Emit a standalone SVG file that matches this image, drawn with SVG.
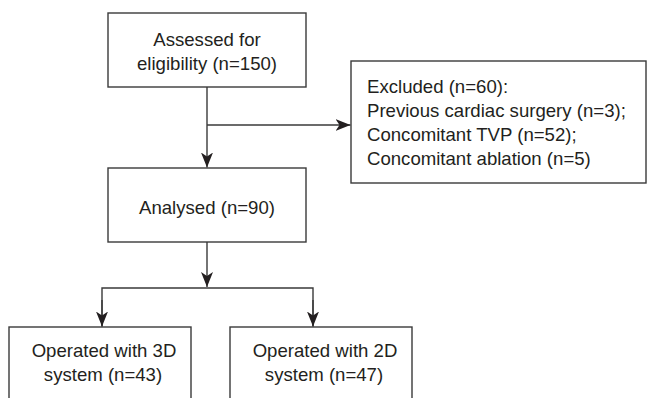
<svg xmlns="http://www.w3.org/2000/svg" width="647" height="398" viewBox="0 0 647 398">
<style>
.box{fill:#fff;stroke:#3a3a3a;stroke-width:1.4}
.t{font-family:"Liberation Sans",Arial,sans-serif;font-size:18.6px;fill:#231f20}
.c{text-anchor:middle}
.ln{fill:none;stroke:#3a3a3a;stroke-width:1.4}
</style>
<defs>
<marker id="ah" viewBox="0 0 15 12" refX="15" refY="6" markerWidth="15" markerHeight="12" markerUnits="userSpaceOnUse" orient="auto">
<path d="M0,0 L15,6 L0,12 L4,6 Z" fill="#231f20"/>
</marker>
</defs>
<rect width="647" height="398" fill="#fff"/>
<g id="assessed">
<rect class="box" x="108" y="13" width="198" height="74"/>
<text class="t c" x="207" y="45.5">Assessed for</text>
<text class="t c" x="207" y="69.5">eligibility (n=150)</text>
</g>
<g id="excluded">
<rect class="box" x="351" y="61" width="295" height="122"/>
<text class="t" x="367" y="93">Excluded (n=60):</text>
<text class="t" x="367" y="117">Previous cardiac surgery (n=3);</text>
<text class="t" x="367" y="141">Concomitant TVP (n=52);</text>
<text class="t" x="367" y="165">Concomitant ablation (n=5)</text>
</g>
<g id="analysed">
<rect class="box" x="108" y="168" width="198" height="74"/>
<text class="t c" x="207" y="214">Analysed (n=90)</text>
</g>
<g id="op3d">
<rect class="box" x="9" y="327" width="182" height="90"/>
<text class="t c" x="104" y="357">Operated with 3D</text>
<text class="t c" x="103" y="381">system (n=43)</text>
</g>
<g id="op2d">
<rect class="box" x="230" y="327" width="182" height="90"/>
<text class="t c" x="325" y="357">Operated with 2D</text>
<text class="t c" x="324" y="381">system (n=47)</text>
</g>
<g id="connectors">
<line class="ln" x1="207" y1="87" x2="207" y2="167.5" marker-end="url(#ah)"/>
<line class="ln" x1="207" y1="125" x2="350.5" y2="125" marker-end="url(#ah)"/>
<line class="ln" x1="207" y1="242" x2="207" y2="287" marker-end="url(#ah)"/>
<polyline class="ln" points="102,326.5 102,288 313,288 313,326.5"/>
<line class="ln" x1="102" y1="300" x2="102" y2="326.5" marker-end="url(#ah)"/>
<line class="ln" x1="313" y1="300" x2="313" y2="326.5" marker-end="url(#ah)"/>
</g>
</svg>
